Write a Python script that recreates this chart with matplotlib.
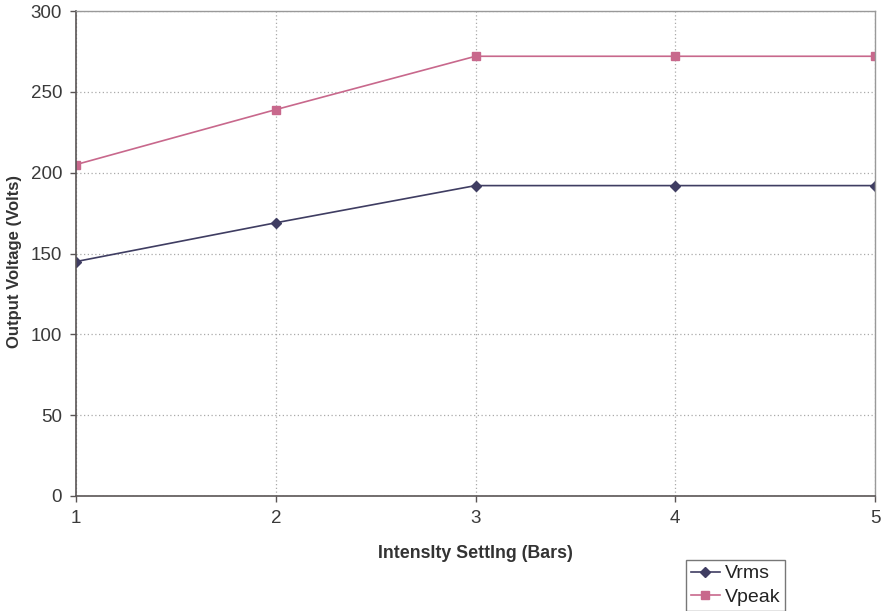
import matplotlib
matplotlib.use("Agg")
import matplotlib.pyplot as plt

plt.rcParams['font.family'] = ['Liberation Sans', 'DejaVu Sans']

x = [1, 2, 3, 4, 5]
vrms = [145, 169, 192, 192, 192]
vpeak = [205, 239, 272, 272, 272]

fig = plt.figure(figsize=(8.82, 6.11), dpi=100)
ax = fig.add_axes([76/882, 1-496/611, (875-76)/882, (496-11)/611])

ax.plot(x, vrms, color='#3f3d62', marker='D', markersize=5, linewidth=1.2, label='Vrms')
ax.plot(x, vpeak, color='#c8688c', marker='s', markersize=6, linewidth=1.2, label='Vpeak')

ax.set_xlim(1, 5)
ax.set_ylim(0, 300)
ax.set_xticks(x)
ax.set_yticks(range(0, 301, 50))
ax.grid(True, color='#aaaaaa', linestyle=(0, (1, 2)), linewidth=0.9)
for s in ['top', 'right']:
    ax.spines[s].set_color('#999999')
    ax.spines[s].set_linewidth(1.0)
for s in ['left', 'bottom']:
    ax.spines[s].set_color('#5a5555')
    ax.spines[s].set_linewidth(1.2)
ax.tick_params(axis='both', length=4, width=1, color='#5a5555', labelsize=13.5, labelcolor='#3a3a3a', pad=6)
ax.set_xlabel('IntensIty SettIng (Bars)', fontsize=12.8, fontweight='bold', color='#333333', labelpad=13)
ax.set_ylabel('Output Voltage (Volts)', fontsize=12, fontweight='bold', color='#333333')
ax.yaxis.set_label_coords(-0.067, 0.484)

leg = fig.legend(loc='upper left', bbox_to_anchor=(686/882, 1-560/611), fontsize=14,
                 frameon=True, fancybox=False, handlelength=1.5, borderpad=0.25,
                 labelspacing=0.3, handletextpad=0.25, borderaxespad=0)
leg.get_frame().set_edgecolor('#555555')
leg.get_frame().set_linewidth(1.0)
for t in leg.get_texts():
    t.set_color('#222222')

fig.savefig('out.png', dpi=100)
